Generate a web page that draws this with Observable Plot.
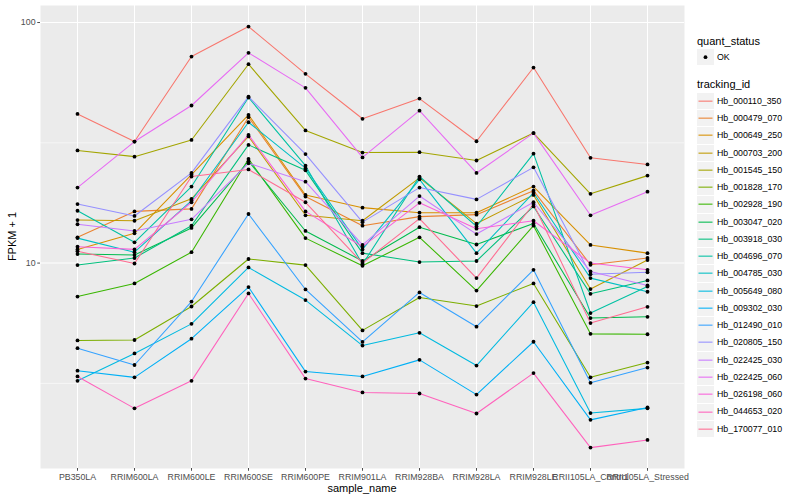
<!DOCTYPE html>
<html><head><meta charset="utf-8">
<script src="https://cdn.jsdelivr.net/npm/d3@7"></script>
<script src="https://cdn.jsdelivr.net/npm/@observablehq/plot@0.6"></script>
<style>
body{margin:0;background:#fff;font-family:"Liberation Sans",Arial,Helvetica,sans-serif;}
#wrap{position:relative;width:800px;height:500px;overflow:hidden;background:#fff;}
#chart{position:absolute;left:0;top:0;}
.lt{position:absolute;font-size:11px;color:#000;white-space:nowrap;line-height:1;}
.ll{position:absolute;font-size:8.8px;color:#000;white-space:nowrap;line-height:1;}
.lk{position:absolute;width:17px;height:16.3px;background:#F2F2F2;}
</style></head><body>
<div id="wrap"><div id="chart"></div><div id="legend"></div></div>
<script>
const samples = ["PB350LA","RRIM600LA","RRIM600LE","RRIM600SE","RRIM600PE","RRIM901LA","RRIM928BA","RRIM928LA","RRIM928LE","RRII105LA_Control","RRII105LA_Stressed"];
const trackingIds = ["Hb_000110_350","Hb_000479_070","Hb_000649_250","Hb_000703_200","Hb_001545_150","Hb_001828_170","Hb_002928_190","Hb_003047_020","Hb_003918_030","Hb_004696_070","Hb_004785_030","Hb_005649_080","Hb_009302_030","Hb_012490_010","Hb_020805_150","Hb_022425_030","Hb_022425_060","Hb_026198_060","Hb_044653_020","Hb_170077_010"];
const colors = ["#F8766D","#EA8331","#D89000","#C09B00","#A3A500","#7CAE00","#39B600","#00BB4E","#00BF7D","#00C1A3","#00BFC4","#00BAE0","#00B0F6","#35A2FF","#9590FF","#C77CFF","#E76BF3","#FA62DB","#FF62BC","#FF6C91"];
const yTicks = [10, 100];
const yMinor = [3.162, 31.62];

const hb_000110_350 = [41.7, 32.0, 72.2, 96.2, 61.2, 39.8, 48.3, 32.1, 65.0, 27.4, 25.7];
const hb_000479_070 = [12.8, 16.4, 16.8, 40.4, 18.9, 14.3, 15.6, 15.9, 20.0, 9.84, 10.5];
const hb_000649_250 = [11.4, 13.3, 23.3, 41.3, 19.2, 17.0, 16.2, 16.2, 20.8, 11.9, 11.0];
const hb_000703_200 = [15.1, 15.0, 18.5, 33.6, 15.8, 15.0, 22.6, 14.6, 19.2, 7.80, 10.3];
const hb_001545_150 = [29.4, 27.7, 32.5, 67.1, 35.6, 28.8, 28.9, 26.7, 34.7, 19.4, 23.1];
const hb_001828_170 = [4.77, 4.79, 6.60, 10.4, 9.81, 5.25, 7.19, 6.63, 8.23, 3.35, 3.86];
const hb_002928_190 = [7.26, 8.23, 11.1, 27.1, 12.7, 9.74, 12.8, 7.69, 14.3, 5.08, 5.06];
const hb_003047_020 = [10.9, 10.8, 14.0, 26.5, 13.6, 10.2, 14.1, 11.95, 14.6, 5.91, 5.98];
const hb_003918_030 = [9.81, 10.5, 14.3, 31.0, 24.3, 11.0, 10.1, 10.2, 17.2, 7.45, 8.47];
const hb_004696_070 = [16.5, 12.2, 20.8, 48.8, 25.4, 9.89, 22.9, 14.2, 28.5, 6.20, 7.99];
const hb_004785_030 = [12.7, 11.1, 18.2, 38.5, 24.8, 11.4, 22.3, 11.0, 19.6, 8.66, 7.60];
const hb_005649_080 = [3.24, 4.21, 5.59, 9.59, 7.02, 4.54, 5.13, 3.75, 6.88, 2.38, 2.49];
const hb_009302_030 = [3.57, 3.35, 4.85, 7.95, 3.54, 3.38, 3.96, 2.84, 4.71, 2.23, 2.51];
const hb_012490_010 = [4.43, 3.77, 6.92, 16.0, 7.77, 4.70, 7.55, 5.44, 9.38, 3.18, 3.68];
const hb_020805_150 = [17.6, 15.7, 23.7, 49.2, 28.4, 14.8, 20.6, 18.4, 25.0, 8.98, 9.16];
const hb_022425_030 = [14.5, 13.6, 15.2, 26.0, 21.8, 11.9, 19.0, 13.2, 17.9, 9.23, 8.07];
const hb_022425_060 = [20.6, 32.0, 45.2, 74.8, 53.5, 27.5, 43.0, 23.7, 34.7, 15.8, 19.8];
const hb_026198_060 = [11.7, 11.4, 17.9, 34.1, 16.4, 11.7, 17.8, 13.9, 15.0, 10.0, 9.38];
const hb_044653_020 = [3.38, 2.49, 3.24, 7.48, 3.31, 2.90, 2.87, 2.37, 3.49, 1.71, 1.84];
const hb_170077_010 = [11.2, 9.96, 22.9, 24.5, 17.9, 10.0, 15.3, 8.66, 17.6, 5.63, 6.58];

const seriesValues = [hb_000110_350, hb_000479_070, hb_000649_250, hb_000703_200, hb_001545_150,
  hb_001828_170, hb_002928_190, hb_003047_020, hb_003918_030, hb_004696_070, hb_004785_030,
  hb_005649_080, hb_009302_030, hb_012490_010, hb_020805_150, hb_022425_030, hb_022425_060,
  hb_026198_060, hb_044653_020, hb_170077_010];

const rows = [];
trackingIds.forEach((id, i) => seriesValues[i].forEach((v, j) =>
  rows.push({tracking_id: id, sample_name: samples[j], fpkm1: v, quant_status: "OK"})));

const font = '"Liberation Sans", Arial, Helvetica, sans-serif';
const plot = Plot.plot({
  width: 690, height: 500,
  marginLeft: 40, marginRight: 6, marginTop: 5, marginBottom: 32,
  style: {fontFamily: font, background: "white", overflow: "visible"},
  x: {type: "point", domain: samples, padding: 0.6, label: null},
  y: {type: "log", domain: [1.40, 117.7], label: null},
  color: {domain: trackingIds, range: colors},
  marks: [
    Plot.frame({fill: "#EBEBEB", stroke: "none"}),
    Plot.ruleY(yMinor, {stroke: "white", strokeWidth: 0.55}),
    Plot.ruleY(yTicks, {stroke: "white", strokeWidth: 1.07}),
    Plot.ruleX(samples, {stroke: "white", strokeWidth: 1.07}),
    Plot.lineY(rows, {x: "sample_name", y: "fpkm1", z: "tracking_id", stroke: "tracking_id", strokeWidth: 1.07}),
    Plot.dot(rows, {x: "sample_name", y: "fpkm1", fill: "black", r: 1.9}),
    Plot.axisY({ticks: yTicks, tickFormat: d => String(d), tickSize: 2.75, tickPadding: 2.2, fontSize: 8.8, color: "#4D4D4D", label: null}),
    Plot.axisX({tickSize: 2.75, tickPadding: 2.2, fontSize: 8.8, color: "#4D4D4D", label: null})
  ]
});
document.getElementById("chart").appendChild(plot);

const svg = d3.select(plot);
svg.append("text").attr("x", 362).attr("y", 488.5).attr("text-anchor", "middle")
  .attr("dy", "0.35em").attr("font-size", 11).attr("fill", "black").attr("font-family", font).text("sample_name");
svg.append("text").attr("transform", "translate(12.5,236.5) rotate(-90)").attr("text-anchor", "middle")
  .attr("dy", "0.35em").attr("font-size", 11).attr("fill", "black").attr("font-family", font).text("FPKM + 1");

// Legend (HTML)
const leg = document.getElementById("legend");
function add(cls, x, y, txt) {
  const d = document.createElement("div");
  d.className = cls; d.style.left = x + "px"; d.style.top = y + "px";
  if (txt !== undefined) d.textContent = txt;
  leg.appendChild(d); return d;
}
add("lt", 697, 35.5, "quant_status");
const ok = add("lk", 697, 49.2);
ok.innerHTML = '<svg width="17" height="16.3"><circle cx="8.5" cy="8.15" r="1.9" fill="black"/></svg>';
add("ll", 717, 53.2, "OK");
add("lt", 697, 79, "tracking_id");
trackingIds.forEach((id, i) => {
  const cy = 101 + 17.26 * i;
  const k = add("lk", 697, cy - 8.15);
  k.innerHTML = `<svg width="17" height="16.3"><line x1="1.5" x2="15.5" y1="8.15" y2="8.15" stroke="${colors[i]}" stroke-width="1.07"/></svg>`;
  add("ll", 717, cy - 4.2, id);
});
</script>
</body></html>
